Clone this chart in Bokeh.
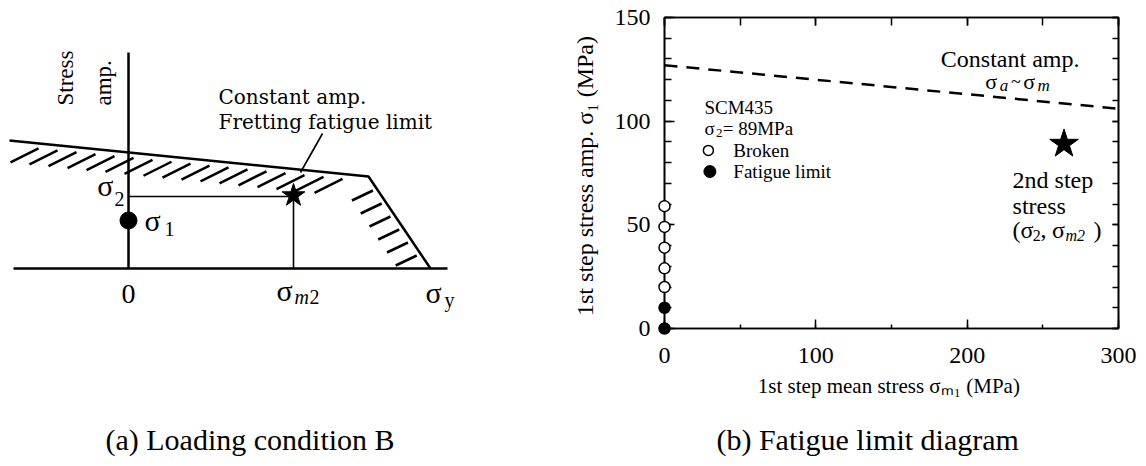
import math
from bokeh.plotting import figure
from bokeh.layouts import row
from bokeh.models import Range1d, LinearAxis, SingleIntervalTicker, CustomJSTickFormatter
from bokeh.core.properties import value
from bokeh.embed import file_html
from bokeh.resources import INLINE

# ---------------- (a) schematic: loading condition B (schematic units) ----------------
env_x = [-119, 240, 302]          # constant-amplitude fretting fatigue limit envelope
env_y = [128, 92, 0]
axis_h_x = [-115, 319]            # mean-stress axis extent
axis_v_y = [0, 216]               # stress-amplitude axis extent
sigma_2 = 72                      # 2nd step amplitude
sigma_m2 = 165                    # 2nd step mean stress
sigma_1 = 48                      # 1st step amplitude
sigma_y = 302                     # yield stress

# ---------------- (b) fatigue limit diagram ----------------
broken_x = [0, 0, 0, 0, 0]
broken_y = [20, 29, 39, 49, 59]
limit_x = [0, 0]
limit_y = [0, 10]
const_x = [0, 300]
const_y = [127, 106]
step2_x = [264]
step2_y = [89]
x_ticks_major = [0, 100, 200, 300]
y_ticks_major = [0, 50, 100, 150]

SERIF = "Liberation Serif"
PPU_A = 1.0          # pixels per y unit, left panel
PPU_B = 311 / 150.0  # pixels per y unit, right panel


def txt(p, x, y, s, size, ppu, font=SERIF, style="normal", align="left",
        baseline="alphabetic", angle=0.0, shift=True):
    px = float(size.replace("px", ""))
    yy = y + (0.33 * px / ppu if shift else 0.0)
    r = p.text(x=[x], y=[yy], text=[s], text_font=value(font),
               text_font_size=value(size), text_font_style=style,
               text_align=align, text_baseline=baseline, angle=angle,
               text_color="black")
    r.level = "overlay"
    return r


# ======================= left figure =======================
pa = figure(width=568, height=458, x_range=Range1d(-128, 440), y_range=Range1d(-60, 251),
            output_backend="svg", toolbar_location=None,
            min_border_left=0, min_border_right=0, min_border_top=17, min_border_bottom=130,
            x_axis_location=None, y_axis_location=None)
pa.grid.visible = False
pa.outline_line_color = None

# axes
pa.line(axis_h_x, [0, 0], line_color="black", line_width=2.5)
pa.line([0, 0], axis_v_y, line_color="black", line_width=2.5)
# envelope
pa.line(env_x, env_y, line_color="black", line_width=2.5)


def env_top(x):
    return env_y[0] + (env_y[1] - env_y[0]) * (x - env_x[0]) / (env_x[1] - env_x[0])


def env_slant(y):
    return env_x[1] + (env_x[2] - env_x[1]) * (env_y[1] - y) / (env_y[1] - env_y[2])


hx0, hy0, hx1, hy1 = [], [], [], []
x = env_x[0] + 29
while x <= env_x[1] - 12:
    yt = env_top(x) - 5
    hx1.append(x); hy1.append(yt)
    hx0.append(x - 28); hy0.append(yt - 14)
    x += 19
y = env_y[1] - 14
while y >= 12:
    xt = env_slant(y) - 5
    hx1.append(xt); hy1.append(y)
    hx0.append(xt - 21); hy0.append(y - 10)
    y -= 13
pa.segment(hx0, hy0, hx1, hy1, line_color="black", line_width=2.5)

# sigma_2 / sigma_m2 construction lines
pa.line([0, sigma_m2], [sigma_2, sigma_2], line_color="black", line_width=1.6)
pa.line([sigma_m2, sigma_m2], [0, sigma_2], line_color="black", line_width=1.6)
pa.scatter([sigma_m2], [sigma_2 + 1], marker="star", size=24, fill_color="black",
           line_color="black")
pa.scatter([0], [sigma_1], marker="circle", size=17, fill_color="black", line_color="black")

# leader line
pa.line([194, 172], [135, 96], line_color="black", line_width=1.6)

txt(pa, -63, 163, "Stress", "23px", PPU_A, angle=math.pi / 2, baseline="middle", shift=False)
txt(pa, -25, 163, "amp.", "23px", PPU_A, angle=math.pi / 2, baseline="middle", shift=False)
txt(pa, 90, 165, "Constant amp.", "20px", PPU_A, font="DejaVu Serif")
txt(pa, 90, 140, "Fretting fatigue limit", "20px", PPU_A, font="DejaVu Serif")

txt(pa, -15, sigma_2 + 1, "σ", "30px", PPU_A, align="right")
txt(pa, -14, sigma_2 - 9, "2", "20px", PPU_A)
txt(pa, 16, sigma_1 - 10, "σ", "30px", PPU_A)
txt(pa, 36, sigma_1 - 15, "1", "20px", PPU_A)
txt(pa, 0, -35, "0", "28px", PPU_A, align="center")
txt(pa, sigma_m2 - 17, -32, "σ", "30px", PPU_A)
txt(pa, sigma_m2 + 1, -35, "m", "20px", PPU_A, style="italic")
txt(pa, sigma_m2 + 16, -35, "2", "20px", PPU_A)
txt(pa, sigma_y - 5, -34, "σ", "30px", PPU_A)
txt(pa, sigma_y + 14, -38, "y", "20px", PPU_A)

txt(pa, -23, -181, "(a) Loading condition B", "30px", PPU_A)

# ======================= right figure =======================
pb = figure(width=570, height=458, x_range=Range1d(0, 300), y_range=Range1d(0, 150),
            output_backend="svg", toolbar_location=None,
            min_border_left=95, min_border_right=20, min_border_top=17, min_border_bottom=130)
pb.grid.visible = False
pb.outline_line_color = "black"
pb.outline_line_width = 1.6

pb.xaxis.ticker = SingleIntervalTicker(interval=100, num_minor_ticks=2)
pb.yaxis.ticker = SingleIntervalTicker(interval=50, num_minor_ticks=5)

blank = CustomJSTickFormatter(code="return ''")


def style_axis(ax, labels=True, major_in=10, minor_in=5):
    ax.axis_line_color = "black"
    ax.axis_line_width = 1.6
    ax.major_tick_in = major_in
    ax.major_tick_out = 0
    ax.minor_tick_in = minor_in
    ax.minor_tick_out = 0
    ax.major_tick_line_width = 1.5
    ax.minor_tick_line_width = 1.5
    ax.major_tick_line_color = "black"
    ax.minor_tick_line_color = "black"
    ax.major_label_text_font = SERIF
    ax.major_label_text_font_size = "24px"
    ax.major_label_text_color = "black"
    ax.axis_label_text_font = SERIF
    ax.axis_label_text_font_style = "normal"
    ax.axis_label_text_color = "black"
    if not labels:
        ax.formatter = blank
        ax.major_label_standoff = 0


style_axis(pb.xaxis[0], major_in=9, minor_in=4)
style_axis(pb.yaxis[0], major_in=10, minor_in=7)
pb.xaxis[0].major_label_standoff = 19
pb.yaxis[0].major_label_standoff = 14
pb.xaxis[0].axis_label = "1st step mean stress  σₘ₁ (MPa)"
pb.xaxis[0].axis_label_text_font_size = "21px"
pb.xaxis[0].axis_label_standoff = 8
pb.yaxis[0].axis_label = "1st step stress amp.  σ₁ (MPa)"
pb.yaxis[0].axis_label_text_font_size = "24px"
pb.yaxis[0].axis_label_standoff = 14

top_ax = LinearAxis(ticker=SingleIntervalTicker(interval=100, num_minor_ticks=2))
style_axis(top_ax, labels=False, major_in=8, minor_in=8)
pb.add_layout(top_ax, "above")
right_ax = LinearAxis(ticker=SingleIntervalTicker(interval=50, num_minor_ticks=5))
style_axis(right_ax, labels=False, major_in=6, minor_in=6)
pb.add_layout(right_ax, "right")

# constant amplitude limit
pb.line(const_x, const_y, line_color="black", line_width=2.5, line_dash="13 9")

# data points
r1 = pb.scatter(broken_x, broken_y, marker="circle", size=11, fill_color="white",
                line_color="black", line_width=1.5)
r2 = pb.scatter(limit_x, limit_y, marker="circle", size=11, fill_color="black",
                line_color="black", line_width=1.5)
r1.level = "overlay"
r2.level = "overlay"
pb.scatter(step2_x, step2_y, marker="star", size=30, fill_color="black", line_color="black")

# legend block
txt(pb, 26.4, 103.5, "SCM435", "19px", PPU_B)
txt(pb, 26.4, 93.6, "σ", "19px", PPU_B)
txt(pb, 34.0, 92.0, "2", "13px", PPU_B)
txt(pb, 38.5, 93.6, "= 89MPa", "19px", PPU_B)
pb.scatter([29], [85.9], marker="circle", size=10, fill_color="white", line_color="black",
           line_width=1.5)
txt(pb, 45.5, 83.0, "Broken", "19px", PPU_B)
pb.scatter([30], [75.7], marker="circle", size=12, fill_color="black", line_color="black")
txt(pb, 45.5, 72.8, "Fatigue limit", "19px", PPU_B)

# constant amp. annotation
txt(pb, 182.6, 126.4, "Constant amp.", "24px", PPU_B)
txt(pb, 212.0, 115.8, "σ", "22px", PPU_B)
txt(pb, 221.5, 114.6, "a", "17px", PPU_B, style="italic")
txt(pb, 229.0, 115.8, "~", "18px", PPU_B)
txt(pb, 237.0, 115.8, "σ", "22px", PPU_B)
txt(pb, 246.5, 114.6, "m", "17px", PPU_B, style="italic")

# 2nd step annotation
txt(pb, 230, 67.7, "2nd step", "24px", PPU_B)
txt(pb, 230, 55.5, "stress", "24px", PPU_B)
txt(pb, 230, 43.9, "(σ", "24px", PPU_B)
txt(pb, 243.3, 42.4, "2", "16px", PPU_B)
txt(pb, 248.5, 43.9, ",", "24px", PPU_B)
txt(pb, 256.0, 43.9, "σ", "24px", PPU_B)
txt(pb, 265.0, 42.4, "m2", "16px", PPU_B, style="italic")
txt(pb, 283.5, 43.9, ")", "24px", PPU_B)

# caption (b)
txt(pb, 34.3, -58.4, "(b) Fatigue limit diagram", "30px", PPU_B)

layout = row(pa, pb)
open("out.html", "w").write(file_html(layout, INLINE))
